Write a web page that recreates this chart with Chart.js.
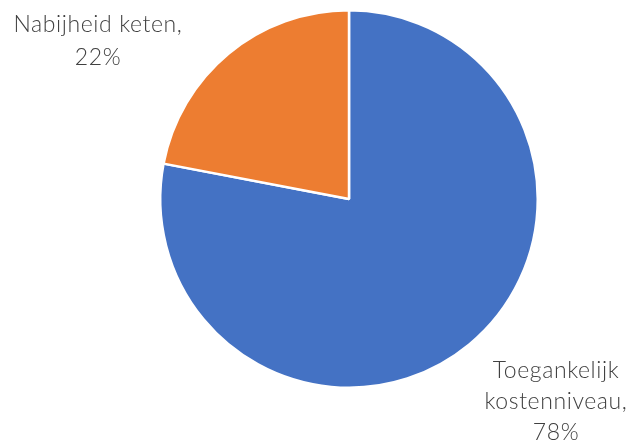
<!DOCTYPE html>
<html>
<head>
<meta charset="utf-8">
<script src="https://cdn.jsdelivr.net/npm/chart.js@4"></script>
<style>
html,body{margin:0;padding:0;background:#fff;}
#wrap{width:631px;height:444px;position:relative;}
</style>
</head>
<body>
<div id="wrap"><canvas id="c" width="631" height="444"></canvas></div>
<script>
const categories = ["Toegankelijk kostenniveau", "Nabijheid keten"];
const values = [78, 22];
const labelLines = [["Toegankelijk", "kostenniveau,", "78%"], ["Nabijheid keten,", "22%"]];
const colors = ["#4472C4", "#ED7D31"];

const labelPlugin = {
  id: 'sliceLabels',
  afterDatasetsDraw(chart) {
    const ctx = chart.ctx;
    const meta = chart.getDatasetMeta(0);
    const anchors = [[556, 378, 31], [98, 32, 33]];
    ctx.save();
    ctx.fillStyle = '#404040';
    ctx.font = '300 23px Lato';
    if ('letterSpacing' in ctx) ctx.letterSpacing = '0.6px';
    ctx.textAlign = 'center';
    ctx.textBaseline = 'alphabetic';
    meta.data.forEach((arc, i) => {
      const lines = labelLines[i];
      const [x, y, lh] = anchors[i];
      lines.forEach((t, j) => ctx.fillText(t, x, y + j * lh));
    });
    ctx.restore();
  }
};

new Chart(document.getElementById('c'), {
  type: 'pie',
  data: {
    labels: categories,
    datasets: [{
      data: values,
      backgroundColor: colors,
      borderColor: '#ffffff',
      borderWidth: 2.5
    }]
  },
  options: {
    responsive: false,
    animation: false,
    layout: { padding: { left: 159, right: 92, top: 9, bottom: 55 } },
    plugins: { legend: { display: false }, tooltip: { enabled: false } }
  },
  plugins: [labelPlugin]
});
</script>
</body>
</html>
